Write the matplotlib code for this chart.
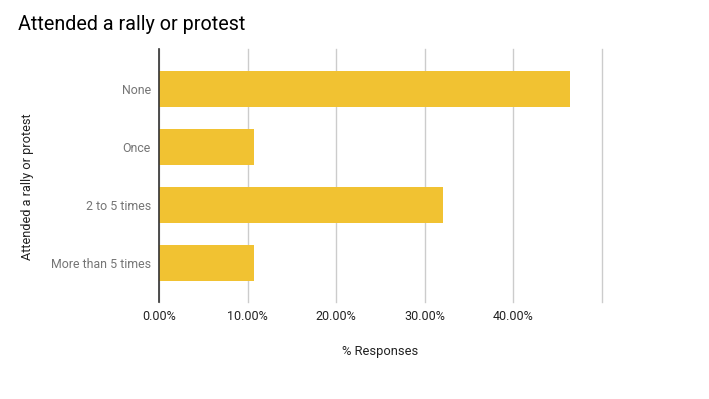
import matplotlib.pyplot as plt
from matplotlib.ticker import FuncFormatter

categories = ['None', 'Once', '2 to 5 times', 'More than 5 times']
responses = [46.4, 10.7, 32.1, 10.7]
xticks = [0, 10, 20, 30, 40, 50]

plt.rcParams['font.family'] = ['Roboto', 'DejaVu Sans']

W, H = 709, 399
fig = plt.figure(figsize=(W / 100, H / 100), dpi=100)
ax = fig.add_axes([159 / W, 1 - 302 / H, (602 - 159) / W, (302 - 49) / H])

ypos = list(range(len(categories)))
ax.barh(ypos, responses, height=0.63, color='#f1c232', zorder=3)

ax.set_xlim(0, 50)
ax.set_ylim(3.67, -0.69)
ax.set_xticks(xticks)
ax.xaxis.set_major_formatter(FuncFormatter(lambda v, p: '' if v >= 50 else f'{v:.2f}%'))
ax.set_yticks(ypos)
ax.set_yticklabels(categories)

ax.grid(axis='x', color='#cccccc', linewidth=1, zorder=0)
for line in ax.get_xgridlines():
    line.set_clip_on(False)
for s in ['top', 'right', 'bottom']:
    ax.spines[s].set_visible(False)
ax.spines['left'].set_color('#333333')
ax.spines['left'].set_linewidth(1.2)
ax.spines['left'].set_zorder(4)

ax.tick_params(axis='x', length=0, pad=6, labelsize=9, labelcolor='#222222')
ax.tick_params(axis='y', length=0, pad=6, labelsize=8.9, labelcolor='#757575')

fig.text(18 / W, 1 - 30 / H, 'Attended a rally or protest', fontsize=14.2,
         color='#000000', ha='left', va='baseline')
fig.text(27 / W, 1 - 187 / H, 'Attended a rally or protest', fontsize=9.2,
         color='#222222', rotation=90, ha='center', va='center')
fig.text(380 / W, 1 - 352 / H, '% Responses', fontsize=9.3,
         color='#222222', ha='center', va='center')

fig.savefig('out.png', dpi=100)
